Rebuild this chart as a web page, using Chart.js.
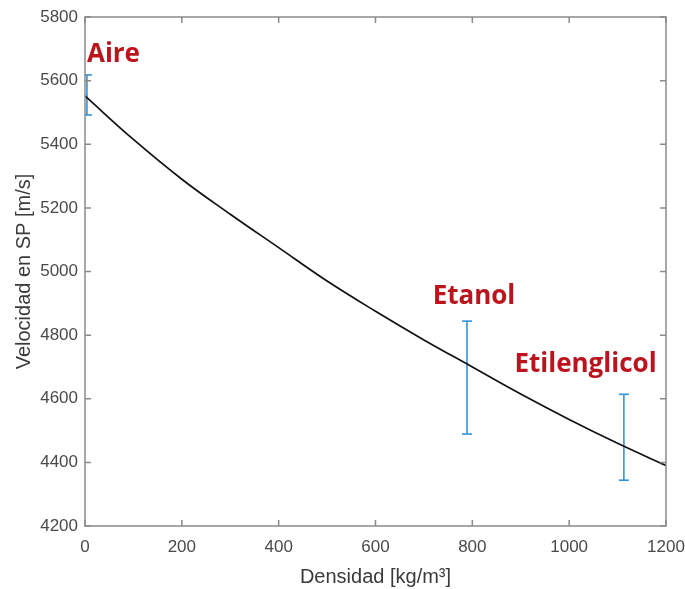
<!DOCTYPE html>
<html lang="es">
<head>
<meta charset="UTF-8">
<title>Velocidad en SP vs Densidad</title>
<script src="https://cdn.jsdelivr.net/npm/chart.js"></script>
<style>
    body { margin: 0; background: #fff; }
    #wrap { width: 685px; height: 589px; }
</style>
</head>
<body>
<div id="wrap"><canvas id="grafico"></canvas></div>
<script>
    // curva teórica
    const densidad = [0, 100, 200, 300, 400, 500, 600, 700, 800, 900, 1000, 1100, 1200];
    const velocidad = [5552, 5415, 5290, 5180, 5075, 4970, 4875, 4785, 4700, 4615, 4535, 4460, 4390];

    // medidas con barras de error
    const liquidos = ['Aire', 'Etanol', 'Etilenglicol'];
    const densLiquido = [4, 789, 1113];
    const velMin = [5492, 4489, 4344];
    const velMax = [5618, 4844, 4614];

    // posición de las etiquetas (unidades de datos)
    const etiquetaX = [4, 718, 887];
    const etiquetaY = [5658, 4898, 4684];

    const xTicks = [0, 200, 400, 600, 800, 1000, 1200];
    const yTicks = [4200, 4400, 4600, 4800, 5000, 5200, 5400, 5600, 5800];

    const azul = '#3293d8';
    const rojo = '#bb141c';

    const datasets = [{
        data: densidad.map((d, i) => ({ x: d, y: velocidad[i] })),
        borderColor: '#111',
        borderWidth: 1.7,
        pointRadius: 0,
        tension: 0.4,
        order: 0
    }];
    liquidos.forEach((n, i) => {
        datasets.push({
            data: [{ x: densLiquido[i], y: velMin[i] }, { x: densLiquido[i], y: velMax[i] }],
            borderColor: azul,
            borderWidth: 1.6,
            pointStyle: 'line',
            pointRadius: 5,
            pointBorderColor: azul,
            pointBorderWidth: 1.6,
            order: 1
        });
    });

    // caja y marcas hacia dentro, estilo MATLAB
    const cajaPlugin = {
        id: 'caja',
        afterDatasetsDraw(chart) {
            const { ctx, chartArea: a, scales } = chart;
            ctx.save();
            ctx.strokeStyle = '#8a8a8a';
            ctx.lineWidth = 1.5;
            ctx.strokeRect(a.left, a.top, a.right - a.left, a.bottom - a.top);
            ctx.beginPath();
            xTicks.forEach(v => {
                const px = scales.x.getPixelForValue(v);
                ctx.moveTo(px, a.bottom); ctx.lineTo(px, a.bottom - 6);
                ctx.moveTo(px, a.top); ctx.lineTo(px, a.top + 6);
            });
            yTicks.forEach(v => {
                const py = scales.y.getPixelForValue(v);
                ctx.moveTo(a.left, py); ctx.lineTo(a.left + 6, py);
                ctx.moveTo(a.right, py); ctx.lineTo(a.right - 6, py);
            });
            ctx.stroke();

            ctx.fillStyle = rojo;
            ctx.font = 'bold 26px "Open Sans", sans-serif';
            ctx.textBaseline = 'alphabetic';
            liquidos.forEach((n, i) => {
                ctx.fillText(n, scales.x.getPixelForValue(etiquetaX[i]), scales.y.getPixelForValue(etiquetaY[i]));
            });
            ctx.restore();
        }
    };

    new Chart(document.getElementById('grafico'), {
        type: 'line',
        data: { datasets },
        options: {
            responsive: true,
            maintainAspectRatio: false,
            animation: false,
            layout: { padding: { top: 17, right: 19, left: 0, bottom: 0 } },
            plugins: { legend: { display: false }, tooltip: { enabled: false } },
            scales: {
                x: {
                    type: 'linear',
                    min: 0, max: 1200,
                    afterBuildTicks: s => { s.ticks = xTicks.map(v => ({ value: v })); },
                    afterFit: s => { s.height = 63; s.paddingLeft = 0; s.paddingRight = 0; },
                    grid: { display: false, drawTicks: false },
                    border: { display: false },
                    ticks: { color: '#4a4a4a', font: { family: 'Liberation Sans', size: 17 }, padding: 11, maxRotation: 0, callback: v => String(v) },
                    title: { display: true, text: 'Densidad [kg/m³]', color: '#3a3a3a', font: { family: 'Liberation Sans', size: 20 }, padding: { top: 1, bottom: 0 } }
                },
                y: {
                    type: 'linear',
                    min: 4200, max: 5800,
                    afterBuildTicks: s => { s.ticks = yTicks.map(v => ({ value: v })); },
                    afterFit: s => { s.width = 85; s.paddingTop = 0; s.paddingBottom = 0; },
                    grid: { display: false, drawTicks: false },
                    border: { display: false },
                    ticks: { color: '#4a4a4a', font: { family: 'Liberation Sans', size: 17 }, padding: 7, callback: v => String(v) },
                    title: { display: true, text: 'Velocidad en SP [m/s]', color: '#3a3a3a', font: { family: 'Liberation Sans', size: 20 }, padding: { top: 12, bottom: 0 } }
                }
            }
        },
        plugins: [cajaPlugin]
    });
</script>
</body>
</html>
